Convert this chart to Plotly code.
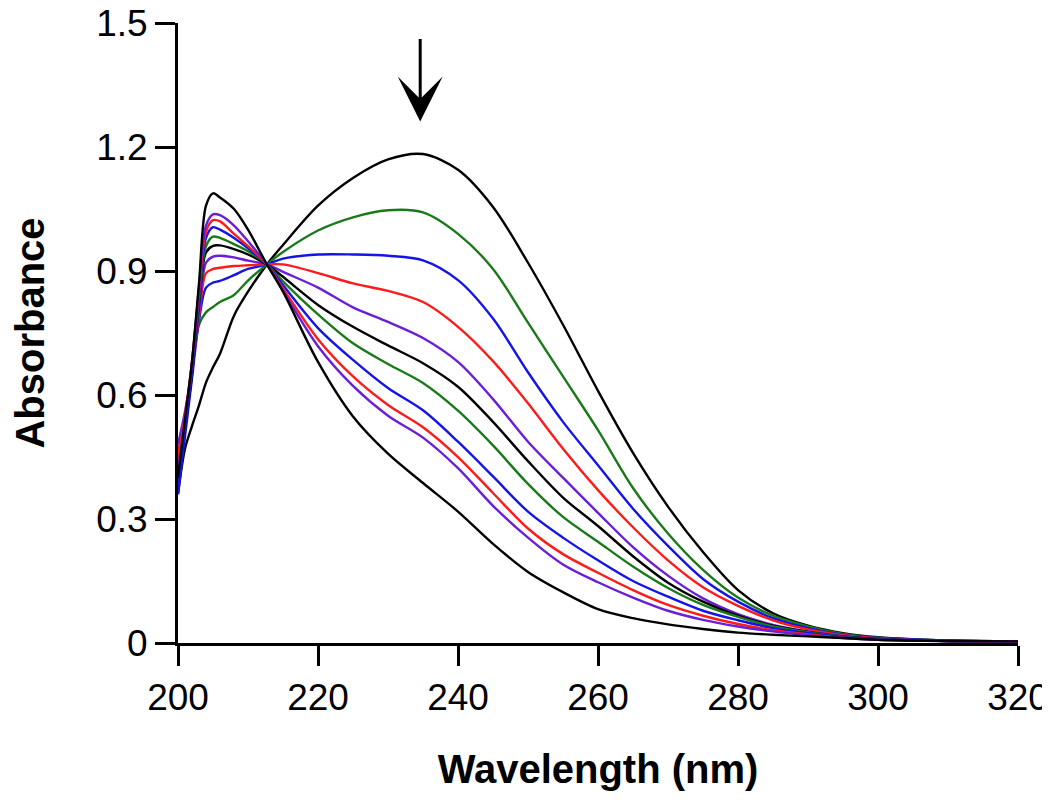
import plotly.graph_objects as go

wavelength = [200, 201, 202, 203, 204, 205, 206, 208, 210, 212.7, 215, 220, 225, 230, 235,
              240, 245, 250, 255, 260, 265, 270, 275, 280, 285, 290, 295, 300, 310, 320]

abs_0 = [0.36, 0.47, 0.525, 0.575, 0.63, 0.667, 0.70, 0.792, 0.85, 0.916, 0.963, 1.058, 1.125, 1.17, 1.183,
         1.145, 1.055, 0.92, 0.77, 0.61, 0.46, 0.33, 0.22, 0.128, 0.072, 0.042, 0.024, 0.014, 0.006, 0.004]
abs_1 = [0.42, 0.54, 0.66, 0.77, 0.80, 0.813, 0.825, 0.842, 0.877, 0.916, 0.946, 0.998, 1.03, 1.047, 1.042,
         0.99, 0.905, 0.775, 0.645, 0.515, 0.375, 0.265, 0.177, 0.11, 0.066, 0.04, 0.022, 0.013, 0.006, 0.004]
abs_2 = [0.36, 0.50, 0.64, 0.78, 0.86, 0.872, 0.876, 0.89, 0.905, 0.916, 0.93, 0.94, 0.94, 0.937, 0.926,
         0.878, 0.785, 0.655, 0.535, 0.43, 0.325, 0.235, 0.155, 0.10, 0.06, 0.036, 0.02, 0.012, 0.006, 0.004]
abs_3 = [0.46, 0.55, 0.66, 0.79, 0.895, 0.905, 0.908, 0.912, 0.914, 0.916, 0.916, 0.895, 0.87, 0.852, 0.825,
         0.765, 0.682, 0.58, 0.47, 0.37, 0.28, 0.20, 0.135, 0.09, 0.055, 0.033, 0.019, 0.011, 0.005, 0.004]
abs_4 = [0.48, 0.56, 0.66, 0.80, 0.92, 0.935, 0.937, 0.933, 0.925, 0.916, 0.898, 0.86, 0.812, 0.777, 0.738,
         0.68, 0.59, 0.487, 0.40, 0.315, 0.232, 0.163, 0.108, 0.07, 0.044, 0.028, 0.017, 0.010, 0.005, 0.004]
abs_5 = [0.40, 0.52, 0.65, 0.82, 0.945, 0.961, 0.962, 0.953, 0.94, 0.916, 0.886, 0.818, 0.765, 0.72, 0.677,
         0.62, 0.535, 0.44, 0.352, 0.283, 0.21, 0.146, 0.10, 0.066, 0.042, 0.027, 0.016, 0.010, 0.005, 0.004]
abs_6 = [0.42, 0.53, 0.66, 0.83, 0.96, 0.983, 0.98, 0.965, 0.948, 0.916, 0.875, 0.795, 0.725, 0.675, 0.629,
         0.562, 0.478, 0.385, 0.305, 0.245, 0.185, 0.133, 0.092, 0.063, 0.04, 0.026, 0.015, 0.009, 0.005, 0.004]
abs_7 = [0.38, 0.52, 0.66, 0.84, 0.98, 1.006, 1.00, 0.98, 0.955, 0.916, 0.866, 0.762, 0.685, 0.617, 0.563,
         0.487, 0.403, 0.318, 0.255, 0.20, 0.15, 0.112, 0.078, 0.055, 0.036, 0.024, 0.014, 0.009, 0.005, 0.004]
abs_8 = [0.44, 0.55, 0.68, 0.85, 0.995, 1.023, 1.02, 0.99, 0.96, 0.916, 0.858, 0.735, 0.645, 0.576, 0.522,
         0.45, 0.363, 0.277, 0.215, 0.17, 0.128, 0.092, 0.066, 0.046, 0.031, 0.021, 0.013, 0.008, 0.005, 0.004]
abs_9 = [0.42, 0.54, 0.68, 0.86, 1.01, 1.037, 1.035, 1.01, 0.972, 0.916, 0.852, 0.718, 0.622, 0.55, 0.497,
         0.423, 0.332, 0.255, 0.19, 0.147, 0.11, 0.078, 0.056, 0.04, 0.028, 0.019, 0.012, 0.008, 0.005, 0.004]
abs_10 = [0.40, 0.54, 0.68, 0.87, 1.058, 1.088, 1.078, 1.05, 1.0, 0.916, 0.85, 0.68, 0.548, 0.458, 0.387,
          0.318, 0.24, 0.172, 0.123, 0.082, 0.06, 0.045, 0.034, 0.025, 0.02, 0.016, 0.012, 0.008, 0.005, 0.004]

series = [abs_0, abs_1, abs_2, abs_3, abs_4, abs_5, abs_6, abs_7, abs_8, abs_9, abs_10]
series_colors = ["#000000", "#1a7a1a", "#1414e6", "#ff1a1a", "#6a1fd6",
                 "#000000", "#1a7a1a", "#1414e6", "#ff1a1a", "#6a1fd6", "#000000"]

y_ticks = [0, 0.3, 0.6, 0.9, 1.2, 1.5]
y_tick_labels = ["0", "0.3", "0.6", "0.9", "1.2", "1.5"]
x_ticks = [200, 220, 240, 260, 280, 300, 320]

arrow_x = 234.6
arrow_tip = 1.262
arrow_tail = 1.465

fig = go.Figure()
for vals, col in zip(series, series_colors):
    fig.add_trace(go.Scatter(x=wavelength, y=vals, mode="lines",
                             line=dict(color=col, width=2.4, shape="spline", smoothing=0.9),
                             showlegend=False, hoverinfo="skip"))

fig.add_annotation(x=arrow_x, y=arrow_tip, ax=arrow_x, ay=arrow_tail,
                   xref="x", yref="y", axref="x", ayref="y",
                   showarrow=True, arrowhead=3, arrowsize=2.5, arrowwidth=3,
                   arrowcolor="#000000", text="")

font_family = "Arial, Liberation Sans, sans-serif"
# page body adds an 8px margin; figure is sized/placed to compensate
fig.update_layout(
    width=1042, height=787,
    margin=dict(l=170, r=32, t=15, b=152),
    plot_bgcolor="white", paper_bgcolor="white",
    font=dict(family=font_family, color="black", size=37),
    showlegend=False,
)
fig.update_xaxes(range=[200, 320], tickvals=x_ticks, ticks="outside", ticklen=20, tickwidth=2.5,
                 tickcolor="black", showline=True, linewidth=3, linecolor="black",
                 showgrid=False, zeroline=False, automargin=False, ticklabeloverflow="allow",
                 tickfont=dict(size=37, family=font_family),
                 title=dict(text="<b>Wavelength (nm)</b>", font=dict(size=40, family=font_family),
                            standoff=38))
fig.update_yaxes(range=[0, 1.5001], tickvals=y_ticks, ticktext=y_tick_labels, ticks="outside",
                 ticklen=20, tickwidth=2.5, tickcolor="black", showline=True, linewidth=3,
                 linecolor="black", showgrid=False, zeroline=False, automargin=False,
                 ticklabeloverflow="allow",
                 tickfont=dict(size=37, family=font_family),
                 title=dict(text="<b>Absorbance</b>", font=dict(size=40, family=font_family),
                            standoff=52))

fig.write_html("out.html")
